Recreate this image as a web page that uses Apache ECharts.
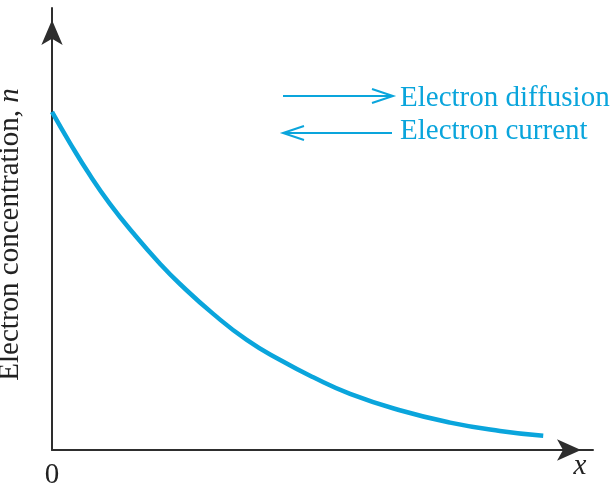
<!DOCTYPE html>
<html>
<head>
<meta charset="utf-8">
<script src="https://cdn.jsdelivr.net/npm/echarts@6/dist/echarts.min.js"></script>
<style>
  html, body { margin: 0; padding: 0; background: #fff; }
  #chart { width: 615px; height: 483px; }
</style>
</head>
<body>
<div id="chart"></div>
<script>
// distance from junction (arbitrary units) and electron concentration n
var xValues = [0, 3.3, 7.0, 10.7, 15.0, 20.0, 23.7, 29.8, 36.0, 42.1, 48.2, 55.1, 64.3, 73.6, 82.8, 90.8]
var nValues = [76.5, 69.5, 62.2, 55.7, 49.1, 42.1, 37.5, 30.8, 24.9, 20.4, 16.5, 12.7, 9.0, 6.2, 4.3, 3.2]
var legendTexts = ['Electron diffusion', 'Electron current']

var blue = '#0aa5dc'
var axisColor = '#2e2e2e'
var serif = "'Liberation Serif', 'Times New Roman', serif"

var points = xValues.map(function (x, i) { return [x, nValues[i]] })

var myChart = echarts.init(document.getElementById('chart'))
var option = {
  animation: false,
  grid: {
    left: 52,
    right: 22,
    top: 8,
    bottom: 33,
    outerBoundsMode: 'none'
  },
  xAxis: {
    type: 'value',
    min: 0,
    max: 100,
    interval: 100,
    axisLine: {
      lineStyle: { color: axisColor, width: 2 },
      symbol: ['none', 'arrow'],
      symbolSize: [16, 24],
      symbolOffset: [0, -12]
    },
    axisTick: { show: false },
    splitLine: { show: false },
    axisLabel: {
      margin: 11,
      color: '#222',
      fontSize: 29,
      fontFamily: serif,
      formatter: function (v) { return v === 0 ? '0' : '' }
    }
  },
  yAxis: {
    type: 'value',
    min: 0,
    max: 100,
    interval: 100,
    name: 'Electron concentration, {i|n}',
    nameLocation: 'middle',
    nameGap: 27,
    nameRotate: 90,
    nameTextStyle: {
      color: '#222',
      fontSize: 29,
      fontFamily: serif,
      padding: [0, 11, 0, 0],
      rich: {
        i: { fontStyle: 'italic', fontSize: 29, fontFamily: serif, color: '#222' }
      }
    },
    axisLine: {
      show: true,
      lineStyle: { color: axisColor, width: 2 },
      symbol: ['none', 'arrow'],
      symbolSize: [16, 25],
      symbolOffset: [0, -12]
    },
    axisTick: { show: false },
    splitLine: { show: false },
    axisLabel: { show: false }
  },
  graphic: [
    {
      type: 'text', x: 580, y: 466,
      style: { text: 'x', fontSize: 29, fontStyle: 'italic', fontFamily: serif, fill: '#222', align: 'center', verticalAlign: 'middle' }
    },
    // legend style arrows
    { type: 'line', shape: { x1: 283, y1: 96, x2: 392, y2: 96 }, style: { stroke: blue, lineWidth: 2 } },
    { type: 'polyline', shape: { points: [[372, 89], [393, 96], [372, 103]] }, style: { stroke: blue, lineWidth: 2, fill: null } },
    { type: 'line', shape: { x1: 283, y1: 133, x2: 392, y2: 133 }, style: { stroke: blue, lineWidth: 2 } },
    { type: 'polyline', shape: { points: [[304, 126], [283, 133], [304, 140]] }, style: { stroke: blue, lineWidth: 2, fill: null } },
    {
      type: 'text', x: 400, y: 98,
      style: { text: legendTexts[0], fontSize: 29, fontFamily: serif, fill: blue, verticalAlign: 'middle' }
    },
    {
      type: 'text', x: 400, y: 131,
      style: { text: legendTexts[1], fontSize: 29, fontFamily: serif, fill: blue, verticalAlign: 'middle' }
    }
  ],
  series: [
    {
      name: 'n',
      type: 'line',
      smooth: 0.5,
      showSymbol: false,
      lineStyle: { color: blue, width: 4.5 },
      data: points
    }
  ]
}
myChart.setOption(option, true)
</script>
</body>
</html>
